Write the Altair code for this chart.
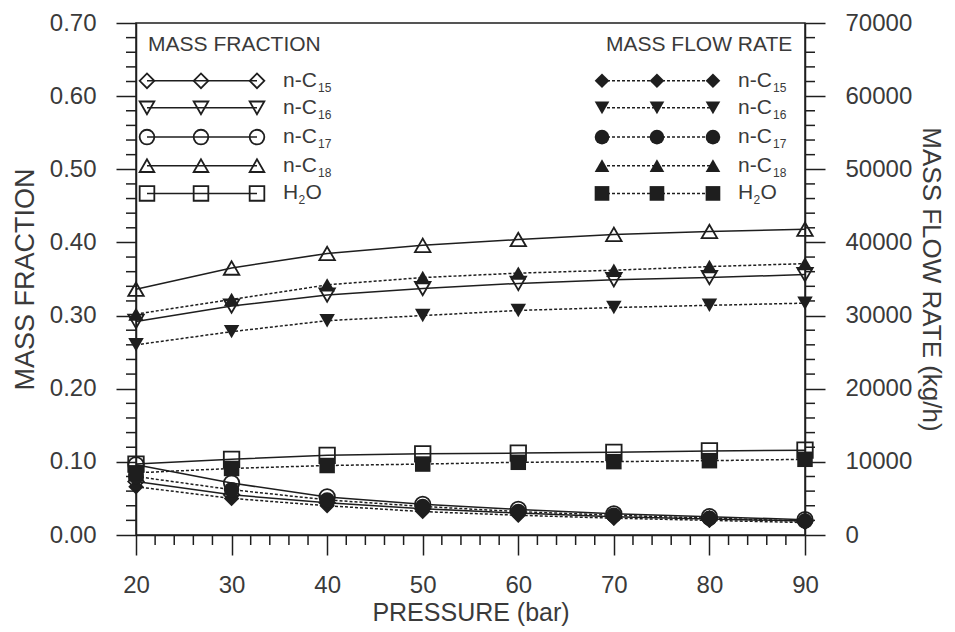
import altair as alt
import pandas as pd

# ---------------- data ----------------
pressure = [20, 30, 40, 50, 60, 70, 80, 90]
species = ["n-C15", "n-C16", "n-C17", "n-C18", "H2O"]
shapes = ["diamond", "triangle-down", "circle", "triangle-up", "square"]

frac_c15 = [0.073, 0.055, 0.044, 0.036, 0.030, 0.025, 0.022, 0.019]
frac_c16 = [0.292, 0.313, 0.328, 0.337, 0.344, 0.349, 0.352, 0.356]
frac_c17 = [0.096, 0.071, 0.052, 0.042, 0.035, 0.029, 0.025, 0.021]
frac_c18 = [0.336, 0.365, 0.385, 0.396, 0.404, 0.411, 0.415, 0.418]
frac_h2o = [0.097, 0.1035, 0.109, 0.111, 0.112, 0.113, 0.115, 0.116]

flow_c15 = [6600, 5000, 4000, 3200, 2700, 2300, 2000, 1700]
flow_c16 = [26000, 27800, 29300, 30000, 30700, 31100, 31400, 31700]
flow_c17 = [8000, 6200, 4800, 3900, 3200, 2700, 2300, 1900]
flow_c18 = [30200, 32200, 34200, 35200, 35800, 36200, 36700, 37100]
flow_h2o = [8500, 9100, 9500, 9700, 9940, 10030, 10160, 10350]

x_ticks = [20, 30, 40, 50, 60, 70, 80, 90]
frac_ticks = [0.0, 0.1, 0.2, 0.3, 0.4, 0.5, 0.6, 0.7]
flow_ticks = [0, 10000, 20000, 30000, 40000, 50000, 60000, 70000]

leg_sub = ["15", "16", "17", "18", "2"]
leg_main = ["n-C", "n-C", "n-C", "n-C", "H"]
leg_tail = ["", "", "", "", "O"]

# ---------------- layout / style ----------------
W, H = 669, 512
FONT = "Liberation Sans"
INK = "#1e1e1e"
TXT = "#3a3a3a"
MSIZE = 240
LSIZE = 215

leg_rows = [0.621, 0.584, 0.544, 0.505, 0.467]
leg_left_x = [21.15, 26.8, 32.66]
leg_right_x = [68.76, 74.51, 80.37]
leg_left_text = 35.38
leg_right_text = 82.99
px = 70.0 / W  # data units per pixel on x


def long(vals_list):
    rows = []
    for sp, vals in zip(species, vals_list):
        for p, v in zip(pressure, vals):
            rows.append({"pressure": p, "value": v, "species": sp})
    return pd.DataFrame(rows)


frac_df = long([frac_c15, frac_c16, frac_c17, frac_c18, frac_h2o])
flow_df = long([flow_c15, flow_c16, flow_c17, flow_c18, flow_h2o])


def legend_df(xs):
    rows = []
    for sp, ry in zip(species, leg_rows):
        for xv in xs:
            rows.append({"pressure": xv, "value": ry, "species": sp})
    return pd.DataFrame(rows)


legL = legend_df(leg_left_x)
legR = legend_df(leg_right_x)


def text_df(x0):
    rows = []
    for m, s, t, ry in zip(leg_main, leg_sub, leg_tail, leg_rows):
        w_main = (35.0 if m == "n-C" else 15.5)
        rows.append({"pressure": x0, "value": ry, "lab": m,
                     "sx": x0 + w_main * px, "sub": s,
                     "tx": x0 + (w_main + 7.0) * px, "tail": t})
    return pd.DataFrame(rows)


txt = pd.concat([text_df(leg_left_text), text_df(leg_right_text)], ignore_index=True)
titles = pd.DataFrame({"pressure": [21.26, 88.67], "value": [0.670, 0.670],
                       "t": ["MASS FRACTION", "MASS FLOW RATE"]})

minor_x = pd.DataFrame({"pressure": [v for v in range(22, 90, 2) if v % 10 != 0]})
minor_frac = pd.DataFrame({"value": [i / 100 for i in range(2, 70, 2) if i % 10 != 0]})
minor_flow = pd.DataFrame({"value": [i * 1000 for i in range(2, 70, 2) if i % 10 != 0]})

# ---------------- encodings ----------------
x_enc = alt.X("pressure:Q",
              scale=alt.Scale(domain=[20, 90], nice=False, zero=False),
              axis=alt.Axis(values=x_ticks, format="d", title="PRESSURE (bar)",
                            labelPadding=18, titlePadding=3, labelFlush=False,
                            titleFontSize=25))
y_frac = alt.Y("value:Q",
               scale=alt.Scale(domain=[0, 0.7], nice=False, zero=False),
               axis=alt.Axis(values=frac_ticks, format=".2f", orient="left",
                             title="MASS FRACTION", titlePadding=10, labelFlush=False,
                             titleFontSize=27))
y_flow = alt.Y("value:Q",
               scale=alt.Scale(domain=[0, 70000], nice=False, zero=False),
               axis=alt.Axis(values=flow_ticks, format="d", orient="right",
                             title="MASS FLOW RATE (kg/h)", titlePadding=6,
                             labelFlush=False, titleFontSize=26))
shape_enc = alt.Shape("species:N", scale=alt.Scale(domain=species, range=shapes), legend=None)

# ---------------- fraction group ----------------
frac_lines = alt.Chart(frac_df).mark_line(color=INK, strokeWidth=1.5).encode(
    x=x_enc, y=y_frac, detail="species:N")
frac_pts = alt.Chart(frac_df).mark_point(filled=False, color=INK, strokeWidth=1.8,
                                         size=MSIZE, opacity=1).encode(
    x=x_enc, y=y_frac, shape=shape_enc)

legL_line = alt.Chart(legL).mark_line(color=INK, strokeWidth=1.5).encode(
    x=x_enc, y=y_frac, detail="species:N")
legL_pts = alt.Chart(legL).mark_point(filled=False, color=INK, strokeWidth=1.8,
                                      size=LSIZE, opacity=1).encode(
    x=x_enc, y=y_frac, shape=shape_enc)
legR_line = alt.Chart(legR).mark_line(color=INK, strokeWidth=1.5, strokeDash=[3, 2]).encode(
    x=x_enc, y=y_frac, detail="species:N")
legR_pts = alt.Chart(legR).mark_point(filled=True, color=INK, size=LSIZE, opacity=1).encode(
    x=x_enc, y=y_frac, shape=shape_enc)

lab_main = alt.Chart(txt).mark_text(font=FONT, fontSize=21, color=TXT, align="left",
                                    baseline="middle").encode(
    x=x_enc, y=y_frac, text="lab:N")
lab_sub = alt.Chart(txt).transform_calculate(pressure="datum.sx").mark_text(
    font=FONT, fontSize=12, color=TXT, align="left", baseline="middle", dy=7).encode(
    x=x_enc, y=y_frac, text="sub:N")
lab_tail = alt.Chart(txt).transform_calculate(pressure="datum.tx").mark_text(
    font=FONT, fontSize=21, color=TXT, align="left", baseline="middle").encode(
    x=x_enc, y=y_frac, text="tail:N")
title_left = alt.Chart(titles.iloc[[0]]).mark_text(font=FONT, fontSize=21, color=TXT,
                                                   align="left", baseline="middle").encode(
    x=x_enc, y=y_frac, text="t:N")
title_right = alt.Chart(titles.iloc[[1]]).mark_text(font=FONT, fontSize=21, color=TXT,
                                                    align="right", baseline="middle").encode(
    x=x_enc, y=y_frac, text="t:N")

minor_bottom = alt.Chart(minor_x).mark_rule(color=INK, strokeWidth=1.5).encode(
    x=x_enc, y=alt.value(H), y2=alt.value(H + 10))
minor_left = alt.Chart(minor_frac).mark_rule(color=INK, strokeWidth=1.5).encode(
    y=y_frac, x=alt.value(0), x2=alt.value(-10))

frac_group = alt.layer(minor_bottom, minor_left, frac_lines, frac_pts,
                       legL_line, legL_pts, legR_line, legR_pts,
                       lab_main, lab_sub, lab_tail, title_left, title_right)

# ---------------- flow group ----------------
flow_lines = alt.Chart(flow_df).mark_line(color=INK, strokeWidth=1.5, strokeDash=[3, 2]).encode(
    x=x_enc, y=y_flow, detail="species:N")
flow_pts = alt.Chart(flow_df).mark_point(filled=True, color=INK, size=MSIZE, opacity=1).encode(
    x=x_enc, y=y_flow, shape=shape_enc)
minor_right = alt.Chart(minor_flow).mark_rule(color=INK, strokeWidth=1.5).encode(
    y=y_flow, x=alt.value(W), x2=alt.value(W + 10))

flow_group = alt.layer(minor_right, flow_lines, flow_pts)

chart = alt.layer(frac_group, flow_group).resolve_scale(
    y="independent"
).properties(
    width=W, height=H,
    autosize=alt.AutoSizeParams(type="none"),
    padding={"left": 128, "top": 15, "right": 142, "bottom": 94},
).configure_view(
    stroke=INK, strokeWidth=1.5
).configure_axis(
    labelFont=FONT, labelFontSize=24, labelColor=TXT,
    titleFont=FONT, titleFontWeight="normal", titleColor=TXT,
    domainColor=INK, domainWidth=1.5, tickColor=INK, tickWidth=1.5, tickSize=20,
    labelPadding=20, grid=False
)

chart.save("out.html", embed_options={"renderer": "svg", "actions": False})
